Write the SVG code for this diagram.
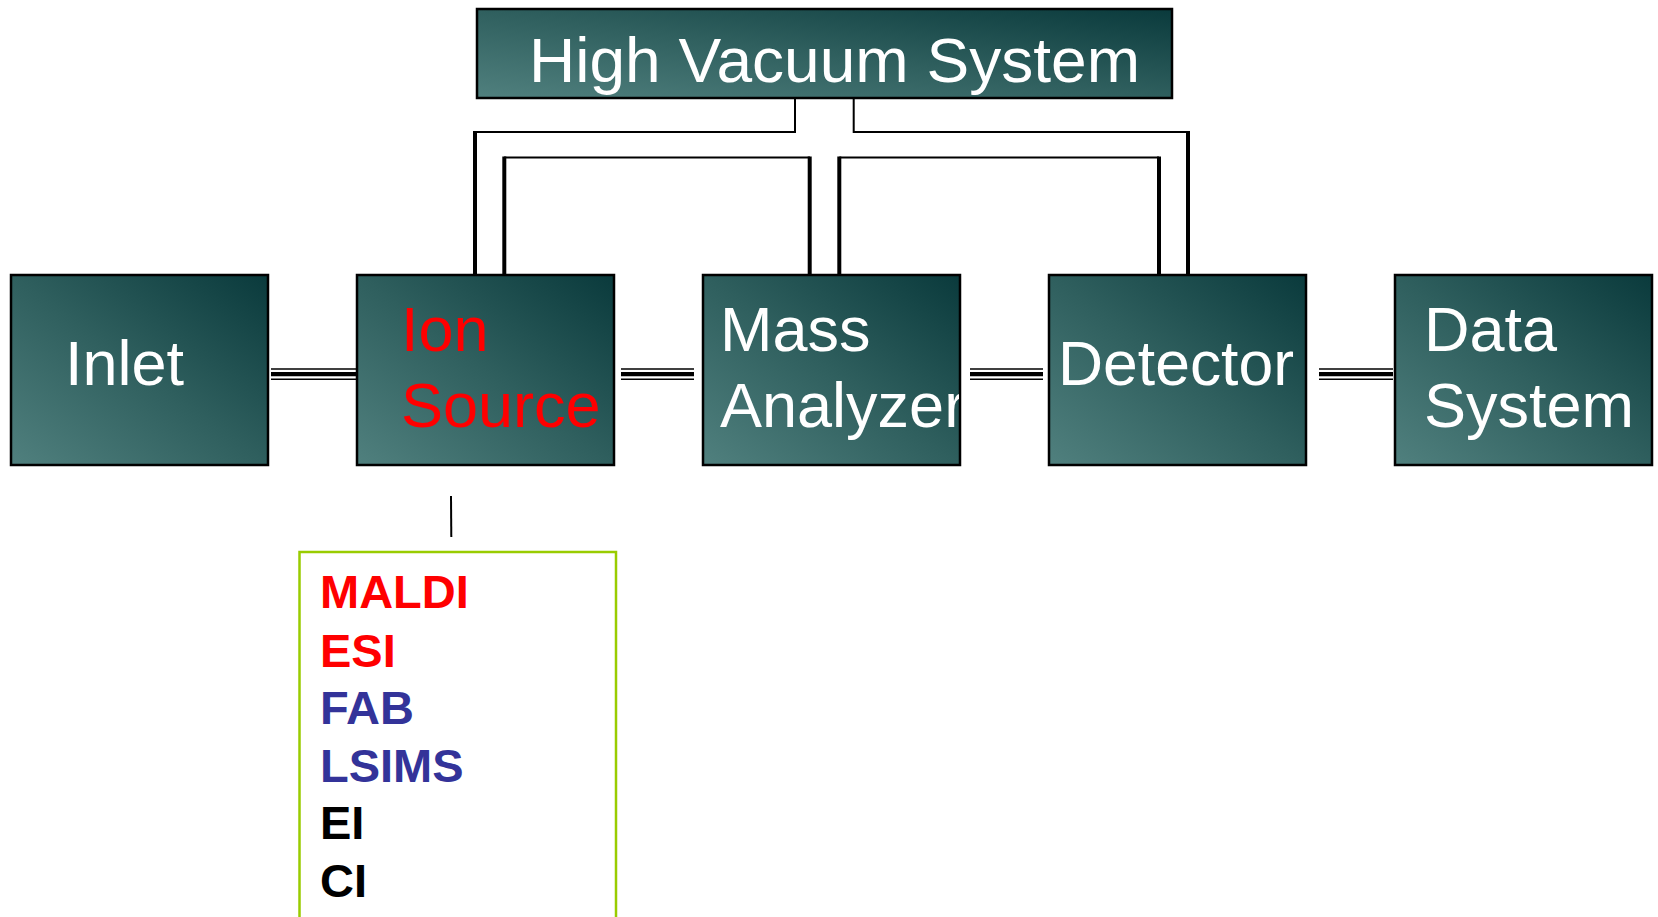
<svg xmlns="http://www.w3.org/2000/svg" width="1658" height="917" viewBox="0 0 1658 917">
  <defs>
    <linearGradient id="teal" x1="0" y1="1" x2="1" y2="0">
      <stop offset="0" stop-color="#50807e"/>
      <stop offset="0.5" stop-color="#2f5f5e"/>
      <stop offset="1" stop-color="#0a3a3c"/>
    </linearGradient>
    <clipPath id="clipMass">
      <rect x="704" y="276" width="255" height="188"/>
    </clipPath>
  </defs>
  <style>
    .box { fill: url(#teal); stroke: #000; stroke-width: 2.5; }
    .lbl { font-family: "Liberation Sans", Arial, sans-serif; font-size: 63px; fill: #fff; }
    .red { fill: #ff0000; }
    .thin { stroke: #000; stroke-width: 2; fill: none; }
    .thick { stroke: #000; stroke-width: 4; fill: none; }
    .dl1 { stroke: #000; stroke-width: 1.6; }
    .dl2 { stroke: #000; stroke-width: 4.2; }
    .list { font-family: "Liberation Sans", Arial, sans-serif; font-size: 47px; font-weight: bold; }
  </style>

  <g id="connectors">
    <!-- vacuum connectors -->
    <polyline class="thin" points="795,98 795,132 475,132"/>
    <line class="thick" x1="475" y1="131" x2="475" y2="275"/>
    <line class="thin" x1="504" y1="157.5" x2="810" y2="157.5"/>
    <line class="thick" x1="504.3" y1="156.5" x2="504.3" y2="275"/>
    <line class="thick" x1="809.7" y1="156.5" x2="809.7" y2="275"/>
    <polyline class="thin" points="853.7,98 853.7,132 1188,132"/>
    <line class="thick" x1="1188" y1="131" x2="1188" y2="275"/>
    <line class="thin" x1="839.3" y1="157.5" x2="1159" y2="157.5"/>
    <line class="thick" x1="839.3" y1="156.5" x2="839.3" y2="275"/>
    <line class="thick" x1="1159" y1="156.5" x2="1159" y2="275"/>
    <!-- horizontal triple lines -->
    <g>
      <line class="dl1" x1="271" y1="369" x2="357" y2="369"/>
      <line class="dl2" x1="271" y1="374.2" x2="357" y2="374.2"/>
      <line class="dl1" x1="271" y1="379.2" x2="357" y2="379.2"/>
    </g>
    <g>
      <line class="dl1" x1="621" y1="369" x2="694" y2="369"/>
      <line class="dl2" x1="621" y1="374.2" x2="694" y2="374.2"/>
      <line class="dl1" x1="621" y1="379.2" x2="694" y2="379.2"/>
    </g>
    <g>
      <line class="dl1" x1="970" y1="369" x2="1043" y2="369"/>
      <line class="dl2" x1="970" y1="374.2" x2="1043" y2="374.2"/>
      <line class="dl1" x1="970" y1="379.2" x2="1043" y2="379.2"/>
    </g>
    <g>
      <line class="dl1" x1="1319" y1="369" x2="1393" y2="369"/>
      <line class="dl2" x1="1319" y1="374.2" x2="1393" y2="374.2"/>
      <line class="dl1" x1="1319" y1="379.2" x2="1393" y2="379.2"/>
    </g>
    <!-- ion source to list -->
    <line x1="451" y1="496" x2="451.3" y2="537" stroke="#000" stroke-width="2"/>
  </g>

  <g id="high-vacuum">
    <rect class="box" x="477" y="9" width="695" height="89"/>
    <text class="lbl" x="529" y="82" font-size="64" textLength="611" lengthAdjust="spacingAndGlyphs">High Vacuum System</text>
  </g>

  <g id="inlet">
    <rect class="box" x="11" y="275" width="257" height="190"/>
    <text class="lbl" x="65" y="385">Inlet</text>
  </g>

  <g id="ion-source">
    <rect class="box" x="357" y="275" width="257" height="190"/>
    <text class="lbl red" x="401" y="351">Ion</text>
    <text class="lbl red" x="401" y="427">Source</text>
  </g>

  <g id="mass-analyzer">
    <rect class="box" x="703" y="275" width="257" height="190"/>
    <g clip-path="url(#clipMass)">
      <text class="lbl" x="720" y="351">Mass</text>
      <text class="lbl" x="720" y="427">Analyzer</text>
    </g>
  </g>

  <g id="detector">
    <rect class="box" x="1049" y="275" width="257" height="190"/>
    <text class="lbl" x="1058" y="385" textLength="236" lengthAdjust="spacingAndGlyphs">Detector</text>
  </g>

  <g id="data-system">
    <rect class="box" x="1395" y="275" width="257" height="190"/>
    <text class="lbl" x="1424" y="351">Data</text>
    <text class="lbl" x="1424" y="427">System</text>
  </g>

  <g id="ion-methods">
    <rect x="299.5" y="552" width="316.5" height="380" fill="none" stroke="#99cc00" stroke-width="2.5"/>
    <text class="list" x="320" y="608" fill="#ff0000">MALDI</text>
    <text class="list" x="320" y="666.5" fill="#ff0000">ESI</text>
    <text class="list" x="320" y="724" fill="#333399">FAB</text>
    <text class="list" x="320" y="781.5" fill="#333399">LSIMS</text>
    <text class="list" x="320" y="839" fill="#000">EI</text>
    <text class="list" x="320" y="896.5" fill="#000">CI</text>
  </g>
</svg>
